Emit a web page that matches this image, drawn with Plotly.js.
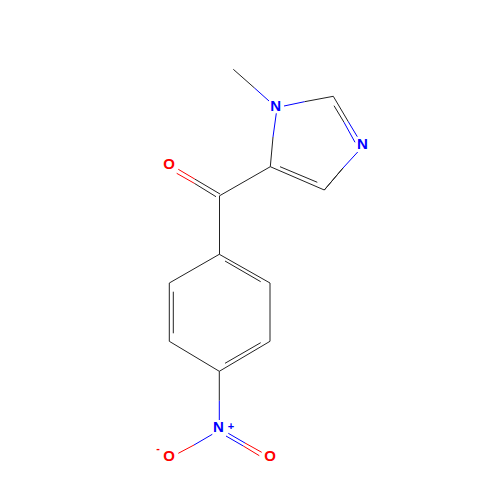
<!DOCTYPE html>
<html><head><meta charset="utf-8"><script src="https://cdn.plot.ly/plotly-3.0.1.min.js"></script>
<style>html,body{margin:0;padding:0;background:#fff}</style></head><body><div id="c" style="width:500px;height:500px"></div>
<script>
// Bond segments: start x, start y, end x, end y (in image pixels)
const blackX0=[233.3,304.5,333.3,334,324.3,343,270.3,280,270.3,219.7,220,216,219.5,219.3,270,270,219.3,169.3,169.3,225,173.3,225,219.3];
const blackY0=[69.3,101.7,96.3,105.7,190,168,166.7,166.7,166.7,195.7,194,196.7,195.7,254.3,283,341.3,371.3,341.3,283,261,291.7,363.3,371.3];
const blackX1=[254.5,333.3,348.3,344,343,324.3,324.3,317.3,273,270.3,194.7,194.3,219.5,270,270,219.3,169.3,169.3,219.3,260.7,173.3,260.7,219.3];
const blackY1=[88,96.3,121.7,122.3,168,190,190,182.3,137,166.7,179,183.3,254.3,283,341.3,371.3,341.3,283,254.3,281.7,333.3,342.7,400.7];
const blueX0=[254.5,284,348.3,344,357.7,273,219.3,212.3,228.3,226];
const blueY0=[88,106,121.7,122.3,152,137,400.7,434.3,433.3,436];
const blueX1=[269,304.5,357.3,355,343,276.3,219.3,194,245,243.3];
const blueY1=[101,101.7,136.7,142.3,168,113.3,420,445,443,446];
const redX0=[194.7,194.3,194,245,243.3];
const redY0=[179,183.3,445,443,446];
const redX1=[178.3,176.7,178.3,261.7,259.3];
const redY1=[169.3,173.3,453.3,452.3,455.7];
// Atom labels
const labelText=['N','N','O','N','O','O','+','-'];
const labelX=[275.7,362.3,169,218.5,169,270,231,158];
const labelY=[107.3,145.3,165.3,428.5,457,457,427,449];
const labelSize=[15,15,15,15,15,15,11,11];
const labelColor=['#0000FF','#0000FF','#FF0000','#0000FF','#FF0000','#FF0000','#0000FF','#FF0000'];

function seg(x0,y0,x1,y1,color){
  const x=[],y=[];
  x0.forEach((v,i)=>{x.push(v,x1[i],null);y.push(y0[i],y1[i],null);});
  return {type:'scatter',mode:'lines',x,y,hoverinfo:'skip',line:{color,width:1}};
}
const data=[
  seg(blackX0,blackY0,blackX1,blackY1,'#222222'),
  seg(blueX0,blueY0,blueX1,blueY1,'#0000FF'),
  seg(redX0,redY0,redX1,redY1,'#FF0000'),
  {type:'scatter',mode:'text',x:labelX,y:labelY,text:labelText,hoverinfo:'skip',
   textposition:'middle center',textfont:{family:'Liberation Sans, Arial, sans-serif',size:labelSize,color:labelColor,weight:700}}
];
const axis={range:[0,500],visible:false,fixedrange:true};
Plotly.newPlot('c',data,{width:500,height:500,margin:{l:0,r:0,t:0,b:0},showlegend:false,
  paper_bgcolor:'#fff',plot_bgcolor:'#fff',
  xaxis:axis,yaxis:Object.assign({},axis,{range:[500,0]})},{staticPlot:true,displayModeBar:false});
</script></body></html>
